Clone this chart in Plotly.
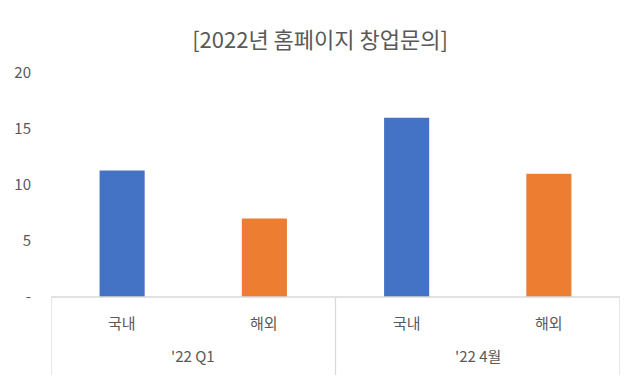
import plotly.graph_objects as go

periods = ["'22 Q1", "'22 Q1", "'22 4월", "'22 4월"]
regions = ["국내", "해외", "국내", "해외"]
values = [11.3, 7.0, 16.0, 11.0]
colors = ["#4472C4", "#ED7D31", "#4472C4", "#ED7D31"]
ytick_vals = [0, 5, 10, 15, 20]
ytick_text = ["-", "5", "10", "15", "20"]

font_family = "Noto Sans CJK KR, Malgun Gothic, sans-serif"
gray = "#595959"
line_gray = "#D9D9D9"

xpos = list(range(len(values)))

fig = go.Figure(go.Bar(
    x=xpos,
    y=values,
    marker=dict(color=colors, line=dict(width=0)),
    width=0.317,
))

# group info
groups = []
for i, p in enumerate(periods):
    if not groups or groups[-1][0] != p:
        groups.append([p, i, i])
    else:
        groups[-1][2] = i

annotations = []
for i, r in enumerate(regions):
    annotations.append(dict(x=i, y=0, xref="x", yref="paper", text=r, showarrow=False,
                            yanchor="middle", yshift=-25,
                            font=dict(size=15, color=gray, family=font_family)))
for p, a, b in groups:
    annotations.append(dict(x=(a + b) / 2, y=0, xref="x", yref="paper", text=p, showarrow=False,
                            yanchor="middle", yshift=-58,
                            font=dict(size=15, color=gray, family=font_family)))

shapes = []
bounds = [groups[0][1] - 0.5] + [g[2] + 0.5 for g in groups]
for bx in bounds:
    shapes.append(dict(type="line", xref="x", yref="paper", x0=bx, x1=bx, y0=0, y1=-0.348,
                       line=dict(color=line_gray, width=1.3)))
shapes.append(dict(type="line", xref="x", yref="paper", x0=bounds[0], x1=bounds[-1], y0=0, y1=0,
                   line=dict(color=line_gray, width=1.3)))

fig.update_layout(
    width=632, height=376,
    margin=dict(l=43, r=20, t=65, b=87, autoexpand=False),
    paper_bgcolor="white", plot_bgcolor="white",
    showlegend=False,
    font=dict(family=font_family, color=gray, size=15),
    title=dict(text="[2022년 홈페이지 창업문의]", x=312 / 632, xanchor="center",
               xref="container", y=1 - 32 / 376, yanchor="middle", yref="container",
               font=dict(size=22, color=gray, family=font_family)),
    annotations=annotations,
    shapes=shapes,
)
fig.update_xaxes(
    range=[bounds[0], bounds[-1]], showticklabels=False, ticks="",
    showgrid=False, zeroline=False, showline=False, automargin=False,
)
fig.update_yaxes(
    range=[0, 20], tickvals=ytick_vals, ticktext=ytick_text,
    showgrid=False, zeroline=False, showline=False, automargin=False,
    tickfont=dict(size=15, color=gray), ticklabelstandoff=19,
)

fig.write_html("out.html")
